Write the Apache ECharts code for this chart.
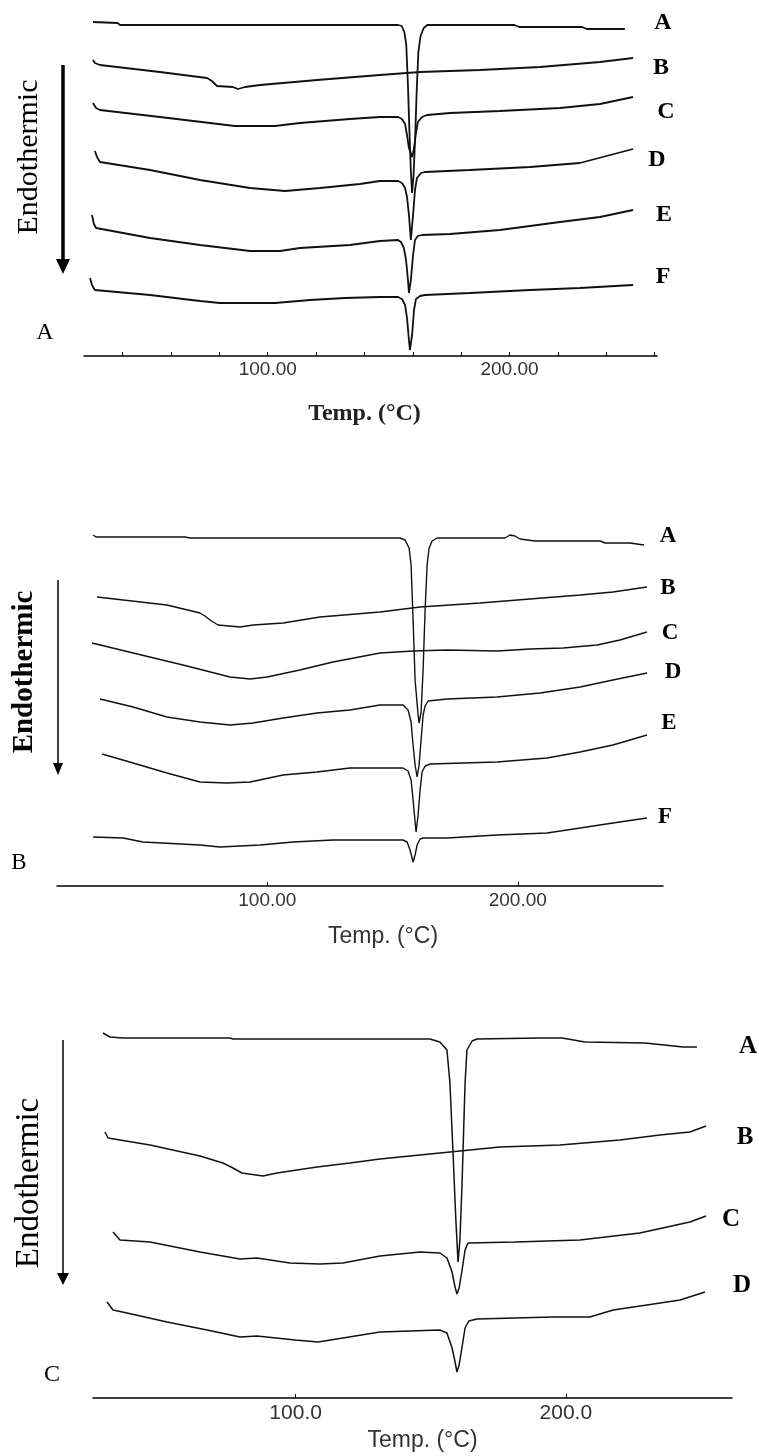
<!DOCTYPE html>
<html>
<head>
<meta charset="utf-8">
<script src="https://cdn.jsdelivr.net/npm/echarts@6/dist/echarts.min.js"></script>
<style>
  html, body { margin: 0; padding: 0; background: #fff; }
  #chart { width: 759px; height: 1456px; }
</style>
</head>
<body>
<div id="chart"></div>
<script>
// DSC thermograms: [temperature (°C), heat flow (arbitrary units, endothermic down)]

// ---- Panel A ----
const panelA_A = [[27.7,33.4],[37.9,33.3],[38.9,33.1],[100,33.1],[153.9,33.1],[155.4,33.0],[156.5,32.4],[157.3,31.1],[158.0,27.0],[158.6,22.5],[159.2,18.5],[159.7,16.3],[160.3,18.0],[161.0,22.0],[161.6,26.5],[162.3,30.4],[163.2,32.0],[164.5,32.8],[166,33.1],[202,33.1],[204,32.9],[230,32.9],[232,32.7],[247.7,32.7]];
const panelA_B = [[27.7,29.6],[28.5,29.3],[30.6,29.1],[55.4,28.4],[74.9,27.8],[76.9,27.5],[79.0,27.0],[85.6,26.9],[87.7,26.7],[90.6,26.9],[96.8,27.1],[106.3,27.3],[120.4,27.6],[146.4,28.1],[163.0,28.4],[187.8,28.6],[212.6,28.9],[237.4,29.4],[251.1,29.8]];
const panelA_C = [[27.7,25.3],[29.0,24.8],[30.6,24.6],[55.4,23.9],[86.4,23.0],[103.0,23.0],[113.3,23.3],[134.0,23.7],[146.4,23.9],[153.9,23.9],[155.5,23.7],[156.8,23.2],[157.6,22.1],[158.4,20.8],[159.7,19.9],[160.5,20.8],[161.3,22.3],[162.1,23.4],[163.8,23.9],[165.9,24.1],[175.4,24.3],[196.0,24.5],[220.9,24.8],[237.4,25.2],[251.1,25.9]];
const panelA_D = [[28.5,20.5],[29.4,19.9],[30.6,19.4],[51.3,18.6],[72.0,17.6],[92.7,16.8],[107.1,16.5],[121.6,16.8],[138.1,17.2],[146.4,17.5],[153.9,17.5],[155.5,17.3],[156.8,16.8],[157.6,15.9],[158.4,14.1],[159.2,11.6],[160.1,14.1],[160.9,16.6],[161.7,17.8],[163.4,18.3],[165.0,18.4],[183.6,18.6],[208.5,18.9],[229.1,19.3],[251.1,20.7]];
const panelA_E = [[27.3,14.1],[28.1,13.2],[29.0,12.8],[51.3,11.8],[72.0,11.1],[92.7,10.5],[105.1,10.5],[113.3,10.8],[134.0,11.1],[146.4,11.5],[153.9,11.6],[155.1,11.4],[156.3,10.8],[157.2,9.6],[158.0,7.6],[158.4,6.3],[159.2,7.6],[160.1,10.1],[160.9,11.6],[162.1,12.0],[163.8,12.1],[175.4,12.2],[196.0,12.6],[220.9,13.4],[237.4,13.9],[251.1,14.6]];
const panelA_F = [[26.5,7.8],[27.3,7.1],[28.5,6.6],[51.3,6.1],[72.0,5.5],[80.2,5.3],[103.0,5.3],[117.5,5.6],[131.9,5.8],[146.4,5.9],[153.9,5.9],[155.5,5.7],[156.8,5.1],[157.6,3.8],[158.4,1.6],[158.8,0.6],[159.7,2.1],[160.5,4.6],[161.3,5.7],[163.0,6.0],[165.0,6.1],[183.6,6.3],[208.5,6.6],[229.1,6.8],[251.1,7.1]];

// ---- Panel B ----
const panelB_A = [[30.4,35.1],[31.6,34.9],[67.1,34.9],[69.1,34.8],[153.0,34.8],[155.0,34.6],[156.6,33.8],[157.4,32.1],[158.2,26.6],[159.0,20.6],[160.2,17.1],[160.6,16.3],[161.4,17.4],[162.2,21.6],[163.0,27.6],[163.8,32.1],[164.6,33.8],[165.8,34.5],[167.8,34.8],[194.9,34.8],[196.9,35.1],[198.9,35.0],[200.9,34.7],[206.9,34.5],[232.9,34.5],[234.9,34.3],[244.8,34.3],[250.4,34.1]];
const panelB_B = [[32.0,28.9],[59.9,28.1],[73.1,27.3],[75.1,27.0],[77.1,26.6],[80.3,26.1],[89.1,25.9],[94.3,26.1],[106.3,26.3],[121.0,26.9],[145.0,27.4],[161.0,27.9],[184.9,28.3],[204.9,28.7],[224.9,29.1],[238.0,29.4],[251.6,29.9]];
const panelB_C = [[30.0,24.3],[46.4,23.3],[66.3,22.1],[85.1,20.9],[93.1,20.7],[99.9,20.9],[113.0,21.6],[126.2,22.4],[145.0,23.3],[158.2,23.5],[171.8,23.6],[191.7,23.5],[204.9,23.7],[218.1,23.8],[231.7,24.1],[240.8,24.6],[251.6,25.4]];
const panelB_D = [[33.2,18.7],[46.4,17.9],[59.9,16.9],[73.1,16.4],[85.1,16.1],[94.3,16.3],[106.3,16.8],[119.8,17.3],[133.0,17.6],[145.0,18.1],[154.2,18.1],[156.2,17.6],[157.4,16.4],[158.2,14.1],[159.0,12.1],[159.8,10.9],[160.6,12.1],[161.4,14.6],[162.2,17.1],[163.0,18.0],[164.2,18.5],[171.8,18.7],[191.7,18.9],[208.9,19.3],[224.9,19.9],[238.0,20.6],[251.6,21.3]];
const panelB_E = [[34.0,13.2],[46.4,12.3],[59.9,11.3],[73.1,10.4],[83.9,10.3],[93.1,10.4],[106.3,11.1],[119.8,11.4],[133.0,11.8],[145.0,11.8],[154.2,11.8],[156.2,11.5],[157.4,10.6],[158.2,8.6],[159.0,6.4],[159.4,5.4],[160.2,7.1],[161.0,9.6],[161.8,11.4],[163.0,12.0],[165.0,12.2],[178.1,12.3],[191.7,12.4],[211.7,12.8],[224.9,13.4],[238.0,14.1],[251.6,15.1]];
const panelB_F = [[30.4,4.9],[42.4,4.8],[50.3,4.4],[73.1,4.1],[81.1,3.9],[97.1,4.1],[110.2,4.4],[126.2,4.6],[145.0,4.6],[154.2,4.6],[155.8,4.4],[157.0,3.6],[157.8,2.8],[158.2,2.4],[159.0,3.1],[159.8,4.1],[161.0,4.7],[162.2,4.8],[171.8,4.8],[191.7,5.1],[211.7,5.3],[224.9,5.8],[238.0,6.3],[251.6,6.8]];

// ---- Panel C ----
const panelC_A = [[28.7,36.5],[31.3,36.1],[36.1,36.0],[75.7,36.0],[76.8,35.9],[149.7,35.9],[153.4,35.6],[156.0,34.8],[157.1,31.5],[158.2,24.8],[159.3,17.8],[160.1,13.6],[160.8,15.8],[161.6,21.5],[162.7,31.5],[163.4,34.8],[165.3,35.7],[167.1,35.9],[190.4,36.0],[198.6,36.0],[207.1,35.6],[229.3,35.5],[243.4,35.1],[248.5,35.1]];
const panelC_B = [[29.4,26.6],[30.6,26.0],[46.1,25.3],[64.6,24.2],[73.1,23.5],[76.8,23.0],[80.1,22.5],[87.9,22.2],[93.1,22.5],[107.9,23.1],[120.1,23.5],[131.2,23.9],[153.4,24.5],[175.6,25.1],[197.8,25.3],[220.0,25.8],[234.8,26.3],[245.9,26.6],[251.9,27.2]];
const panelC_C = [[32.4,16.6],[35.0,15.8],[46.1,15.6],[64.6,14.6],[79.4,13.9],[85.7,14.0],[97.9,13.5],[109.0,13.4],[117.5,13.5],[131.2,14.2],[146.0,14.6],[153.4,14.5],[156.0,14.0],[157.9,12.6],[159.0,11.1],[159.7,10.4],[160.5,11.0],[161.6,12.8],[162.7,14.8],[163.8,15.5],[181.2,15.6],[205.2,15.8],[227.4,16.5],[245.9,17.6],[251.9,18.2]];
const panelC_D = [[30.2,9.6],[32.4,8.8],[37.6,8.5],[52.4,7.6],[67.2,6.8],[79.4,6.1],[85.7,6.2],[99.8,5.8],[108.3,5.6],[117.5,6.0],[131.2,6.6],[153.4,6.8],[156.0,6.5],[157.9,5.0],[159.0,3.6],[159.7,2.6],[160.5,3.3],[161.6,5.1],[162.7,7.0],[164.1,7.7],[167.1,7.9],[195.2,8.1],[208.9,8.1],[217.5,8.8],[230.0,9.3],[242.3,9.8],[251.5,10.6]];

// Axis ticks and labels
const ticksA = [40, 60, 80, 100, 120, 140, 160, 180, 200, 220, 240, 260];
const labelTicks = [100, 200];
const curveNames = ['A', 'B', 'C', 'D', 'E', 'F'];
const panelNames = ['A', 'B', 'C'];

const tracesA = [panelA_A, panelA_B, panelA_C, panelA_D, panelA_E, panelA_F];
const tracesB = [panelB_A, panelB_B, panelB_C, panelB_D, panelB_E, panelB_F];
const tracesC = [panelC_A, panelC_B, panelC_C, panelC_D];

const serif = '"Liberation Serif", "Times New Roman", serif';
const sans = '"Liberation Sans", Arial, sans-serif';

function xAxisFor(gridIndex, min, max, tickVals, decimals, nameGap, namePad, opts) {
  return {
    type: 'value', gridIndex, min, max,
    name: 'Temp. (°C)', nameLocation: 'middle', nameGap,
    nameTextStyle: Object.assign({ padding: namePad }, opts.style),
    axisLine: { lineStyle: { color: '#000', width: 1.5 } },
    axisTick: { show: true, inside: true, length: 4, customValues: tickVals, lineStyle: { color: '#000', width: 1 } },
    axisLabel: {
      customValues: labelTicks, margin: opts.margin,
      formatter: v => v.toFixed(decimals),
      color: '#333', fontFamily: sans, fontSize: opts.labelSize
    },
    splitLine: { show: false }
  };
}

function yAxisFor(gridIndex, max) {
  return { type: 'value', gridIndex, min: 0, max, show: false, splitLine: { show: false } };
}

function lineSeries(data, idx, width) {
  return {
    type: 'line', xAxisIndex: idx, yAxisIndex: idx, data,
    showSymbol: false, smooth: false, silent: true,
    lineStyle: { color: '#111', width }
  };
}

const series = [];
tracesA.forEach(d => series.push(lineSeries(d, 0, 1.8)));
tracesB.forEach(d => series.push(lineSeries(d, 1, 1.4)));
tracesC.forEach(d => series.push(lineSeries(d, 2, 1.5)));

function txt(x, y, text, size, weight, rot) {
  return {
    type: 'text', x, y, rotation: rot || 0, silent: true,
    style: { text, fontFamily: serif, fontSize: size, fontWeight: weight, fill: '#000', align: 'center', verticalAlign: 'middle' }
  };
}
function arrow(x, y1, y2, w, head, headH) {
  return [
    { type: 'line', silent: true, shape: { x1: x, y1, x2: x, y2: y2 - headH + 2 }, style: { stroke: '#000', lineWidth: w } },
    { type: 'polygon', silent: true, shape: { points: [[x - head, y2 - headH], [x + head, y2 - headH], [x, y2]] }, style: { fill: '#000' } }
  ];
}

// Curve label positions next to the trace ends
const labelPosA = [[663, 23], [661, 68], [666, 112], [657, 160], [664, 215], [663, 277]];
const labelPosB = [[668, 536], [668, 588], [670, 633], [673, 672], [669, 723], [665, 817]];
const labelPosC = [[748, 1047], [745, 1138], [731, 1220], [742, 1286]];

const graphic = [];
labelPosA.forEach((p, i) => graphic.push(txt(p[0], p[1], curveNames[i], 24, 'bold')));
labelPosB.forEach((p, i) => graphic.push(txt(p[0], p[1], curveNames[i], 23, 'bold')));
labelPosC.forEach((p, i) => graphic.push(txt(p[0], p[1], curveNames[i], 25, 'bold')));

graphic.push(txt(45, 333, panelNames[0], 24, 'normal'));
graphic.push(txt(19, 863, panelNames[1], 23, 'normal'));
graphic.push(txt(52, 1375, panelNames[2], 24, 'normal'));

graphic.push(txt(29, 157, 'Endothermic', 30, 'normal', Math.PI / 2));
graphic.push(txt(25, 672, 'Endothermic', 29, 'bold', Math.PI / 2));
graphic.push(txt(29, 1183, 'Endothermic', 33, 'normal', Math.PI / 2));

graphic.push(...arrow(63, 65, 274, 3.5, 7, 15));
graphic.push(...arrow(58, 580, 775, 1.5, 5, 12));
graphic.push(...arrow(63, 1040, 1285, 1.5, 6, 12));

const chart = echarts.init(document.getElementById('chart'), null, { renderer: 'canvas' });
chart.setOption({
  animation: false,
  backgroundColor: '#fff',
  grid: [
    { left: 84, right: 102, top: 10, height: 346 },
    { left: 57, right: 96, top: 480, height: 406 },
    { left: 93, right: 27, top: 950, height: 448 }
  ],
  xAxis: [
    xAxisFor(0, 24, 261, ticksA, 2, 46, [0, 12, 0, 0],
      { margin: 4, labelSize: 19, style: { fontFamily: serif, fontWeight: 'bold', fontSize: 24, color: '#222' } }),
    xAxisFor(1, 16, 258, labelTicks, 2, 39, [0, 0, 0, 46],
      { margin: 5, labelSize: 19, style: { fontFamily: sans, fontSize: 23, color: '#333' } }),
    xAxisFor(2, 25, 261.5, labelTicks, 1, 31, [0, 0, 0, 20],
      { margin: 5, labelSize: 21, style: { fontFamily: sans, fontSize: 23, color: '#333' } })
  ],
  yAxis: [yAxisFor(0, 34.6), yAxisFor(1, 40.6), yAxisFor(2, 44.8)],
  series,
  graphic
});
</script>
</body>
</html>
